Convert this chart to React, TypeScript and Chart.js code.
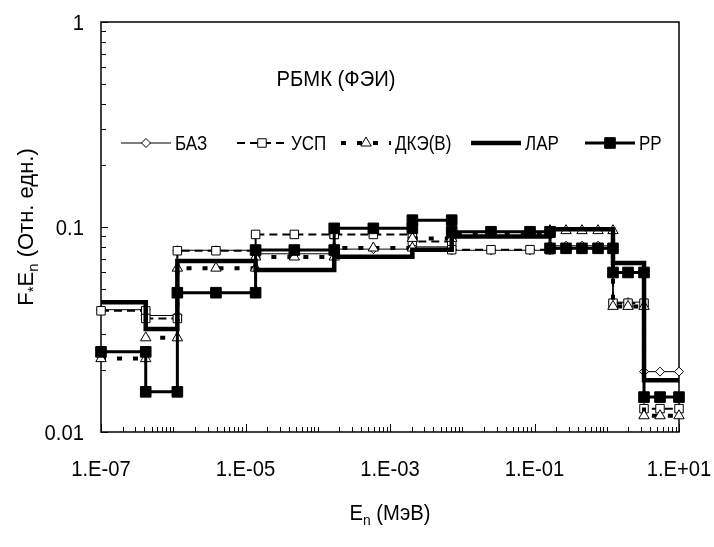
import React, { useEffect, useRef } from 'react';
import { Chart, registerables } from 'chart.js';

Chart.register(...registerables);

// ---- data ----
// energy points (MeV) of each group: edges plus intermediate marker points
const groupPoints: number[][] = [
  [1e-7, 4.16e-7],
  [4.16e-7, 1.14e-6],
  [1.14e-6, 3.9e-6, 1.38e-5],
  [1.38e-5, 4.74e-5, 1.69e-4],
  [1.69e-4, 5.88e-4, 2.04e-3],
  [2.04e-3, 7.15e-3],
  [7.15e-3, 0.025, 0.0867, 0.164],
  [0.164, 0.273, 0.454, 0.757, 1.22],
  [1.22, 1.97, 3.28],
  [3.28, 5.46, 10],
];

const seriesNames = ['БАЗ', 'УСП', 'ДКЭ(В)', 'ЛАР', 'РР'];

const baz = [0.0395, 0.037, 0.077, 0.074, 0.078, 0.08, 0.077, 0.081, 0.043, 0.0197];
const usp = [0.039, 0.0358, 0.0766, 0.092, 0.092, 0.085, 0.0775, 0.0785, 0.0425, 0.013];
const dke = [0.0228, 0.0288, 0.063, 0.0714, 0.079, 0.088, 0.092, 0.096, 0.041, 0.012];
const lar = [0.043, 0.0318, 0.0683, 0.0617, 0.0716, 0.0774, 0.09, 0.0975, 0.0667, 0.0179];
const pp = [0.0246, 0.0157, 0.0478, 0.0772, 0.0985, 0.108, 0.0948, 0.0787, 0.06, 0.0148];

const xTickValues = [1e-7, 1e-5, 1e-3, 1e-1, 10];
const xTickLabels = ['1.E-07', '1.E-05', '1.E-03', '1.E-01', '1.E+01'];
const yTickValues = [0.01, 0.1, 1];
const yTickLabels = ['0.01', '0.1', '1'];

const chartTitle = 'РБМК (ФЭИ)';
const xTitle = ['E', 'n', ' (МэВ)'];
const yTitle = ['F', '*', 'E', 'n', ' (Отн. едн.)'];

// ---- helpers ----
const FONT = '"Liberation Sans", Arial, Helvetica, sans-serif';

function steps(vals: number[]) {
  const out: { x: number; y: number }[] = [];
  groupPoints.forEach((pts, i) => pts.forEach((x) => out.push({ x, y: vals[i] })));
  return out;
}

type Run = { t: string; s: number; dy?: number };

function drawRuns(ctx: CanvasRenderingContext2D, runs: Run[], x: number, y: number, align: string, sx: number, rot = 0) {
  ctx.save();
  ctx.translate(x, y);
  if (rot) ctx.rotate(rot);
  ctx.scale(sx, 1);
  let total = 0;
  const widths: number[] = [];
  for (const r of runs) {
    ctx.font = `${r.s}px ${FONT}`;
    const w = ctx.measureText(r.t).width;
    widths.push(w);
    total += w;
  }
  let cx = align === 'center' ? -total / 2 : align === 'right' ? -total : 0;
  ctx.textAlign = 'left';
  ctx.textBaseline = 'alphabetic';
  ctx.fillStyle = '#000';
  runs.forEach((r, i) => {
    ctx.font = `${r.s}px ${FONT}`;
    ctx.fillText(r.t, cx, r.dy || 0);
    cx += widths[i];
  });
  ctx.restore();
}

function drawMarker(ctx: CanvasRenderingContext2D, style: string, r: number, x: number, y: number, fill: string, bw: number) {
  ctx.beginPath();
  if (style === 'rect') {
    const s = Math.SQRT1_2 * r;
    ctx.rect(x - s, y - s, 2 * s, 2 * s);
  } else if (style === 'rectRot') {
    ctx.moveTo(x - r, y);
    ctx.lineTo(x, y - r);
    ctx.lineTo(x + r, y);
    ctx.lineTo(x, y + r);
    ctx.closePath();
  } else if (style === 'triangle') {
    let a = 0;
    ctx.moveTo(x + Math.sin(a) * r, y - Math.cos(a) * r);
    a += (2 * Math.PI) / 3;
    ctx.lineTo(x + Math.sin(a) * r, y - Math.cos(a) * r);
    a += (2 * Math.PI) / 3;
    ctx.lineTo(x + Math.sin(a) * r, y - Math.cos(a) * r);
    ctx.closePath();
  }
  ctx.fillStyle = fill;
  ctx.fill();
  ctx.lineWidth = bw;
  ctx.strokeStyle = '#000';
  ctx.setLineDash([]);
  ctx.stroke();
}

// legend layout (screen px)
const legendY = 143;
const legendSampleX = [121, 237, 341, 471, 585];
const legendSampleW = 50;

const decorPlugin = {
  id: 'decor',
  beforeDatasetsDraw(chart: any) {
    const { ctx, chartArea: a, scales } = chart;
    const x = scales.x;
    const y = scales.y;
    ctx.save();
    ctx.strokeStyle = '#000';
    ctx.lineWidth = 1.5;
    ctx.setLineDash([]);
    ctx.strokeRect(a.left, a.top, a.right - a.left, a.bottom - a.top);
    ctx.lineWidth = 1;
    ctx.beginPath();
    for (let e = -7; e <= 1; e++) {
      for (let m = 1; m <= 9; m++) {
        const v = m * Math.pow(10, e);
        if (v > 10.0001) break;
        const px = Math.round(x.getPixelForValue(v)) + 0.5;
        const major = m === 1 && xTickValues.some((t) => Math.abs(Math.log10(t) - e) < 1e-6);
        const len = major ? 8 : 5;
        ctx.moveTo(px, a.bottom);
        ctx.lineTo(px, a.bottom - len);
      }
    }
    for (let e = -2; e <= 0; e++) {
      for (let m = 1; m <= 9; m++) {
        const v = m * Math.pow(10, e);
        if (v > 1.0001) break;
        const py = Math.round(y.getPixelForValue(v)) + 0.5;
        const len = m === 1 ? 7 : 5;
        ctx.moveTo(a.left, py);
        ctx.lineTo(a.left + len, py);
      }
    }
    ctx.stroke();
    ctx.restore();
  },
  afterDraw(chart: any) {
    const { ctx, chartArea: a, scales } = chart;
    const x = scales.x;
    const y = scales.y;
    ctx.save();
    // tick labels
    xTickValues.forEach((v, i) => {
      drawRuns(ctx, [{ t: xTickLabels[i], s: 22 }], x.getPixelForValue(v), 476, 'center', 0.92);
    });
    yTickValues.forEach((v, i) => {
      drawRuns(ctx, [{ t: yTickLabels[i], s: 22 }], 84, y.getPixelForValue(v) + 8, 'right', 0.92);
    });
    // axis titles
    drawRuns(
      ctx,
      [
        { t: xTitle[0], s: 22 },
        { t: xTitle[1], s: 15, dy: 5 },
        { t: xTitle[2], s: 22 },
      ],
      (a.left + a.right) / 2,
      520,
      'center',
      0.92
    );
    drawRuns(
      ctx,
      [
        { t: yTitle[0], s: 22 },
        { t: yTitle[1], s: 15, dy: 5 },
        { t: yTitle[2], s: 22 },
        { t: yTitle[3], s: 15, dy: 5 },
        { t: yTitle[4], s: 22 },
      ],
      33,
      (a.top + a.bottom) / 2,
      'center',
      1,
      -Math.PI / 2
    );
    // chart title
    drawRuns(ctx, [{ t: chartTitle, s: 22 }], 336, 86, 'center', 0.92);
    // legend
    chart.data.datasets.forEach((ds: any, i: number) => {
      const x0 = legendSampleX[i];
      ctx.save();
      ctx.strokeStyle = '#000';
      ctx.lineWidth = ds.borderWidth;
      ctx.setLineDash(ds.borderDash || []);
      ctx.beginPath();
      ctx.moveTo(x0, legendY);
      ctx.lineTo(x0 + legendSampleW, legendY);
      ctx.stroke();
      ctx.restore();
      if (ds.pointRadius > 0) {
        drawMarker(ctx, ds.pointStyle, ds.pointRadius, x0 + legendSampleW / 2, legendY, ds.pointBackgroundColor, ds.pointBorderWidth);
      }
      drawRuns(ctx, [{ t: ds.label, s: 20 }], x0 + legendSampleW + 4, legendY + 7, 'left', 0.85);
    });
    ctx.restore();
  },
};

const common = {
  borderColor: '#000',
  pointBorderColor: '#000',
  tension: 0,
  fill: false,
  clip: false as any,
  borderJoinStyle: 'miter' as const,
  borderCapStyle: 'butt' as const,
};

export default function App() {
  const ref = useRef<HTMLCanvasElement>(null);
  useEffect(() => {
    const datasets: any[] = [
      { ...common, label: seriesNames[0], data: steps(baz), borderWidth: 1, pointStyle: 'rectRot', pointRadius: 4.5, pointBackgroundColor: '#fff', pointBorderWidth: 1, order: 5 },
      { ...common, label: seriesNames[1], data: steps(usp), borderWidth: 2, borderDash: [8, 5], pointStyle: 'rect', pointRadius: 6, pointBackgroundColor: '#fff', pointBorderWidth: 1, order: 4 },
      { ...common, label: seriesNames[2], data: steps(dke), borderWidth: 4, borderDash: [5, 11], pointStyle: 'triangle', pointRadius: 6, pointBackgroundColor: '#fff', pointBorderWidth: 1, order: 3 },
      { ...common, label: seriesNames[3], data: steps(lar), borderWidth: 4.5, pointRadius: 0, pointBackgroundColor: '#000', pointBorderWidth: 0, order: 2 },
      { ...common, label: seriesNames[4], data: steps(pp), borderWidth: 3, pointStyle: 'rect', pointRadius: 7.5, pointBackgroundColor: '#000', pointBorderWidth: 1, order: 1 },
    ];
    const chart = new Chart(ref.current as HTMLCanvasElement, {
      type: 'line',
      data: { datasets },
      options: {
        responsive: false,
        animation: false,
        events: [],
        layout: { padding: { left: 0, top: 22, right: 35, bottom: 0 } },
        plugins: { legend: { display: false }, tooltip: { enabled: false }, title: { display: false } },
        scales: {
          x: {
            type: 'logarithmic',
            min: 1e-7,
            max: 10,
            grid: { display: false },
            border: { display: false },
            ticks: { display: false },
            afterFit: (s: any) => {
              s.height = 115;
            },
          },
          y: {
            type: 'logarithmic',
            min: 0.01,
            max: 1,
            grid: { display: false },
            border: { display: false },
            ticks: { display: false },
            afterFit: (s: any) => {
              s.width = 101;
            },
          },
        },
      } as any,
      plugins: [decorPlugin],
    });
    return () => chart.destroy();
  }, []);
  return (
    <div style={{ position: 'absolute', left: 0, top: 0, width: 714, height: 547, background: '#fff' }}>
      <canvas ref={ref} width={714} height={547} style={{ display: 'block', width: 714, height: 547 }} />
    </div>
  );
}
